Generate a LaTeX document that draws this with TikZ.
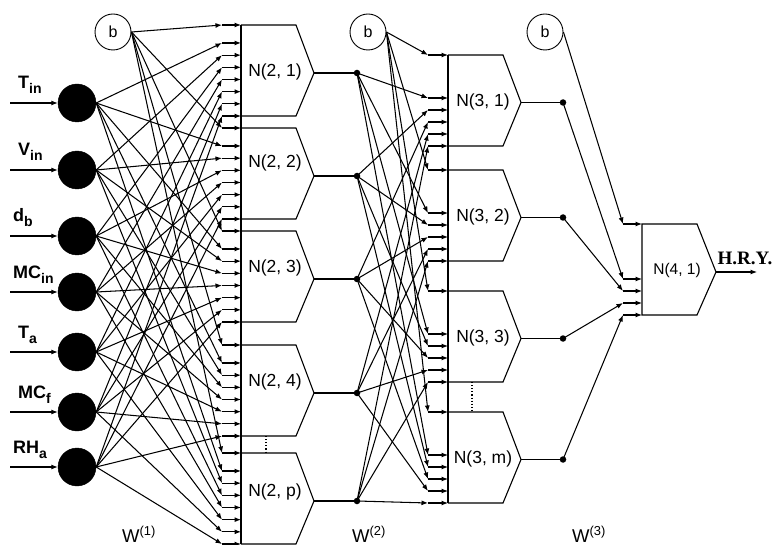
\documentclass[tikz,border=0pt]{standalone}
\usepackage{fontspec}
\setmainfont{Liberation Sans}
\newfontfamily\timesfont{Liberation Serif}
\usepackage{tikz}
\usetikzlibrary{arrows.meta, calc}
\newcommand{\inputtag}[2]{#1\raisebox{-5pt}{\fontsize{14}{14}\selectfont #2}}

\begin{document}
\begin{tikzpicture}[x=1pt, y=-1pt]
				\tikzset{arrow/.style={-{Latex[length=6.5pt, width=5pt]}, line width=1.05pt}}
				\tikzset{cell/.style={line width=1.1pt}}
				\tikzset{inp/.style={draw, circle, fill=black, minimum size=38pt, inner sep=0pt}}
				\tikzset{bias/.style={draw, circle, line width=0.9pt, minimum size=36pt, inner sep=0pt, font=\fontsize{16}{18}\selectfont}}
				\tikzset{dot/.style={circle, fill=black, minimum size=6.5pt, inner sep=0pt}}
				\tikzset{lbl/.style={inner sep=0pt, font=\fontsize{17.5}{20}\selectfont}}

				\useasboundingbox (0,0) rectangle (773,545);

				% input layer
				\foreach \y/\lx/\s/\t [count=\i] in {103/18/T/in, 170/18/V/in, 236/13/d/b, 292/13/MC/in, 352/18/T/a, 412/18/MC/f, 467/13/RH/a}
				{
					\node (x\i) [inp] at (77,\y) {};
					\coordinate (s\i) at (10,\y);
					\draw[arrow] (s\i) -- (x\i.west);
					\node (t\i) [anchor=base west, inner sep=0pt, font=\bfseries\fontsize{18}{20}\selectfont] at (\lx,\y-14) {\inputtag{\s}{\t}};
				}

				\node (b1) [bias] at (113,32) {b};
				\node (b2) [bias] at (368,32) {b};
				\node (b3) [bias] at (545,32) {b};

				% first hidden layer
				\foreach \yt/\k/\ly [count=\j] in {25/1/72, 128/2/163, 231/3/268, 345/4/382, 453/p/492}
				{
					\draw[cell] (241,\yt) -- (296,\yt) -- (314,\yt+48) -- (296,\yt+91) -- (241,\yt+91);
					\node (n2\j) [lbl] at (275,\ly) {N(2, \k)};
					\coordinate (o2\j) at (314,\yt+48);
					\node (d2\j) [dot] at (357,\yt+48) {};
					\draw[cell] (o2\j) -- (d2\j.center);
					\coordinate (a\j-0) at (222,\yt);
					\coordinate (e\j-0) at (241,\yt);
					\foreach \s in {1,...,7}
					{
						\coordinate (a\j-\s) at (222,{\yt+91-(7-\s)*12.17});
						\coordinate (e\j-\s) at (241,{\yt+91-(7-\s)*12.17});
					}
					\foreach \s in {0,...,7}
					{ \draw[arrow] (a\j-\s) -- (e\j-\s); }
					\draw[arrow] (b1.east) -- (a\j-0);
					\foreach \i in {1,...,7}
					{ \draw[arrow] (x\i.east) -- (a\j-\i); }
				}
				\draw[cell] (e1-0) -- (e5-7);
				\draw[dotted, line width=1.1pt] (266,436) -- (266,453);

				% second hidden layer
				\foreach \yt/\k/\ly [count=\j] in {55/1/102, 170/2/217, 291/3/338, 412/m/459}
				{
					\draw[cell] (448,\yt) -- (503,\yt) -- (521,\yt+47.5) -- (503,\yt+91) -- (448,\yt+91);
					\node (n3\j) [lbl] at (483,\ly) {N(3, \k)};
					\coordinate (o3\j) at (521,\yt+47.5);
					\node (d3\j) [dot] at (563,\yt+47.5) {};
					\draw[cell] (o3\j) -- (d3\j.center);
					\coordinate (c\j-0) at (428,\yt);
					\coordinate (f\j-0) at (448,\yt);
					\foreach \s in {1,...,5}
					{
						\coordinate (c\j-\s) at (428,{\yt+91-(5-\s)*12});
						\coordinate (f\j-\s) at (448,{\yt+91-(5-\s)*12});
					}
					\foreach \s in {0,...,5}
					{ \draw[arrow] (c\j-\s) -- (f\j-\s); }
					\draw[arrow] (b2.east) -- (c\j-0);
					\foreach \i in {1,...,5}
					{ \draw[arrow] (d2\i.center) -- (c\j-\i); }
				}
				\draw[cell] (f1-0) -- (f4-5);
				\draw[dotted, line width=1.1pt] (472,382) -- (472,412);

				% output layer
				\draw[cell] (642,224) -- (697,224) -- (716,272) -- (697,315) -- (642,315) -- cycle;
				\node (n41) [lbl, font=\fontsize{15.5}{18}\selectfont] at (677,270) {N(4, 1)};
				\coordinate (g0) at (623,224);
				\coordinate (h0) at (642,224);
				\foreach \s in {1,...,4}
				{
					\coordinate (g\s) at (623,{315-(4-\s)*12});
					\coordinate (h\s) at (642,{315-(4-\s)*12});
				}
				\foreach \s in {0,...,4}
				{ \draw[arrow] (g\s) -- (h\s); }
				\draw[arrow] (b3.east) -- (g0);
				\foreach \i in {1,...,4}
				{ \draw[arrow] (d3\i.center) -- (g\i); }

				\coordinate (o41) at (716,272);
				\coordinate (yout) at (757,272);
				\draw[arrow] (o41) -- (yout);
				\node (hry) [anchor=base, inner sep=0pt, font=\timesfont\bfseries\fontsize{19}{21}\selectfont] at (745,264) {H.R.Y.};

				% weight labels
				\node (w1) [lbl, anchor=base west, font=\fontsize{18.5}{20}\selectfont] at (122,542) {W\textsuperscript{(1)}};
				\node (w2) [lbl, anchor=base west, font=\fontsize{18.5}{20}\selectfont] at (352,542) {W\textsuperscript{(2)}};
				\node (w3) [lbl, anchor=base west, font=\fontsize{18.5}{20}\selectfont] at (572,542) {W\textsuperscript{(3)}};
\end{tikzpicture}
\end{document}
